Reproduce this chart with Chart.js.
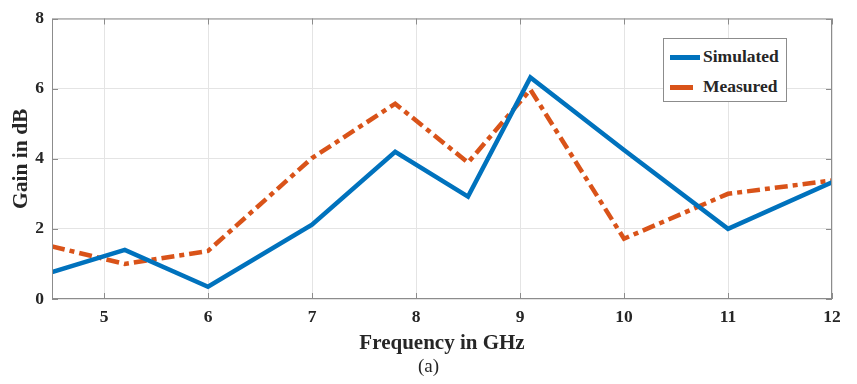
<!DOCTYPE html>
<html>
<head>
<meta charset="utf-8">
<script src="https://cdn.jsdelivr.net/npm/chart.js@4/dist/chart.umd.min.js"></script>
<style>
  html, body { margin: 0; padding: 0; background: #fff; }
  #wrap { position: relative; width: 857px; height: 384px; }
  #legend {
    position: absolute; left: 663px; top: 38px; width: 122px; height: 62px;
    border: 1px solid #8c8c8c; background: #fff;
    font-family: 'Liberation Serif', 'Times New Roman', serif; font-weight: bold; font-size: 17.5px; color: #262626;
  }
  #legend .row { position: absolute; left: 6px; height: 20px; line-height: 20px; white-space: nowrap; }
  #legend .swatch { display: inline-block; vertical-align: middle; width: 30px; height: 0; margin-right: 3px; }
  #caption {
    position: absolute; left: 0; width: 857px; top: 355px; text-align: center;
    font-family: 'Liberation Serif', 'Times New Roman', serif; font-size: 19px; color: #262626;
  }
</style>
</head>
<body>
<div id="wrap">
  <canvas id="gainChart" width="857" height="384"></canvas>
  <div id="legend"></div>
  <div id="caption">(a)</div>
</div>
<script>
// Données
const freqGHz = [4.5, 5.2, 6, 7, 7.8, 8.5, 9.1, 10, 11, 12];
const simulated = [0.77, 1.4, 0.35, 2.12, 4.2, 2.92, 6.32, 4.25, 2.0, 3.33];
const measured = [1.5, 1.0, 1.37, 4.02, 5.57, 3.89, 5.97, 1.72, 3.0, 3.38];
const xTicks = [5, 6, 7, 8, 9, 10, 11, 12];
const yTicks = [0, 2, 4, 6, 8];

const BLUE = '#0072BD';
const ORANGE = '#D95319';
const AXIS_GREY = '#8c8c8c';
const SERIF = "'Liberation Serif', 'Times New Roman', serif";

const toPoints = ys => freqGHz.map((x, i) => ({ x: x, y: ys[i] }));

// cadre complet + petites graduations (style MATLAB "box on")
const boxPlugin = {
    id: 'boxPlugin',
    afterDraw(chart) {
        const { ctx, chartArea: a, scales } = chart;
        ctx.save();
        ctx.strokeStyle = AXIS_GREY;
        ctx.lineWidth = 1;
        ctx.strokeRect(a.left + 0.5, a.top + 0.5, a.right - a.left - 1, a.bottom - a.top - 1);
        ctx.beginPath();
        scales.x.ticks.forEach(t => {
            const px = Math.round(scales.x.getPixelForValue(t.value)) + 0.5;
            ctx.moveTo(px, a.bottom); ctx.lineTo(px, a.bottom - 6);
            ctx.moveTo(px, a.top); ctx.lineTo(px, a.top + 6);
        });
        scales.y.ticks.forEach(t => {
            const py = Math.round(scales.y.getPixelForValue(t.value)) + 0.5;
            ctx.moveTo(a.left, py); ctx.lineTo(a.left + 6, py);
            ctx.moveTo(a.right, py); ctx.lineTo(a.right - 6, py);
        });
        ctx.stroke();
        ctx.restore();
    }
};

const chart = new Chart(document.getElementById('gainChart'), {
    type: 'line',
    data: {
        datasets: [
            {
                label: 'Simulated',
                data: toPoints(simulated),
                borderColor: BLUE,
                borderWidth: 4.5,
                pointRadius: 0,
                tension: 0,
                borderJoinStyle: 'miter'
            },
            {
                label: 'Measured',
                data: toPoints(measured),
                borderColor: ORANGE,
                borderWidth: 4.5,
                borderDash: [13, 5, 5, 5],
                pointRadius: 0,
                tension: 0,
                borderJoinStyle: 'miter'
            }
        ]
    },
    options: {
        responsive: false,
        animation: false,
        layout: { padding: { left: 9, right: 25, top: 13, bottom: 28 } },
        plugins: {
            legend: { display: false },
            tooltip: { enabled: false }
        },
        scales: {
            x: {
                type: 'linear',
                min: 4.5,
                max: 12,
                afterBuildTicks: s => { s.ticks = xTicks.map(v => ({ value: v })); },
                afterFit: s => { s.height = 57; },
                grid: { color: '#e4e4e4', drawTicks: false },
                border: { display: false },
                ticks: {
                    padding: 8,
                    color: '#262626',
                    font: { family: SERIF, size: 17.5, weight: 'bold' }
                },
                title: {
                    display: true,
                    text: 'Frequency in GHz',
                    color: '#262626',
                    padding: { top: 0, bottom: 0 },
                    font: { family: SERIF, size: 21, weight: 'bold' }
                }
            },
            y: {
                min: 0,
                max: 8,
                afterBuildTicks: s => { s.ticks = yTicks.map(v => ({ value: v })); },
                afterFit: s => { s.width = 43; },
                grid: { color: '#e4e4e4', drawTicks: false },
                border: { display: false },
                ticks: {
                    padding: 8,
                    color: '#262626',
                    font: { family: SERIF, size: 17.5, weight: 'bold' }
                },
                title: {
                    display: true,
                    text: 'Gain in dB',
                    color: '#262626',
                    padding: { top: 0, bottom: 0 },
                    font: { family: SERIF, size: 21.5, weight: 'bold' }
                }
            }
        }
    },
    plugins: [boxPlugin]
});

// Légende HTML à l'intérieur du tracé
const legendEl = document.getElementById('legend');
chart.data.datasets.forEach((ds, i) => {
    const row = document.createElement('div');
    row.className = 'row';
    row.style.top = (7 + i * 30) + 'px';
    const sw = document.createElement('span');
    sw.className = 'swatch';
    sw.style.borderTop = '5px solid ' + ds.borderColor;
    if (ds.borderDash) sw.style.width = '23px', sw.style.marginRight = '10px';
    row.appendChild(sw);
    row.appendChild(document.createTextNode(ds.label));
    legendEl.appendChild(row);
});
</script>
</body>
</html>
